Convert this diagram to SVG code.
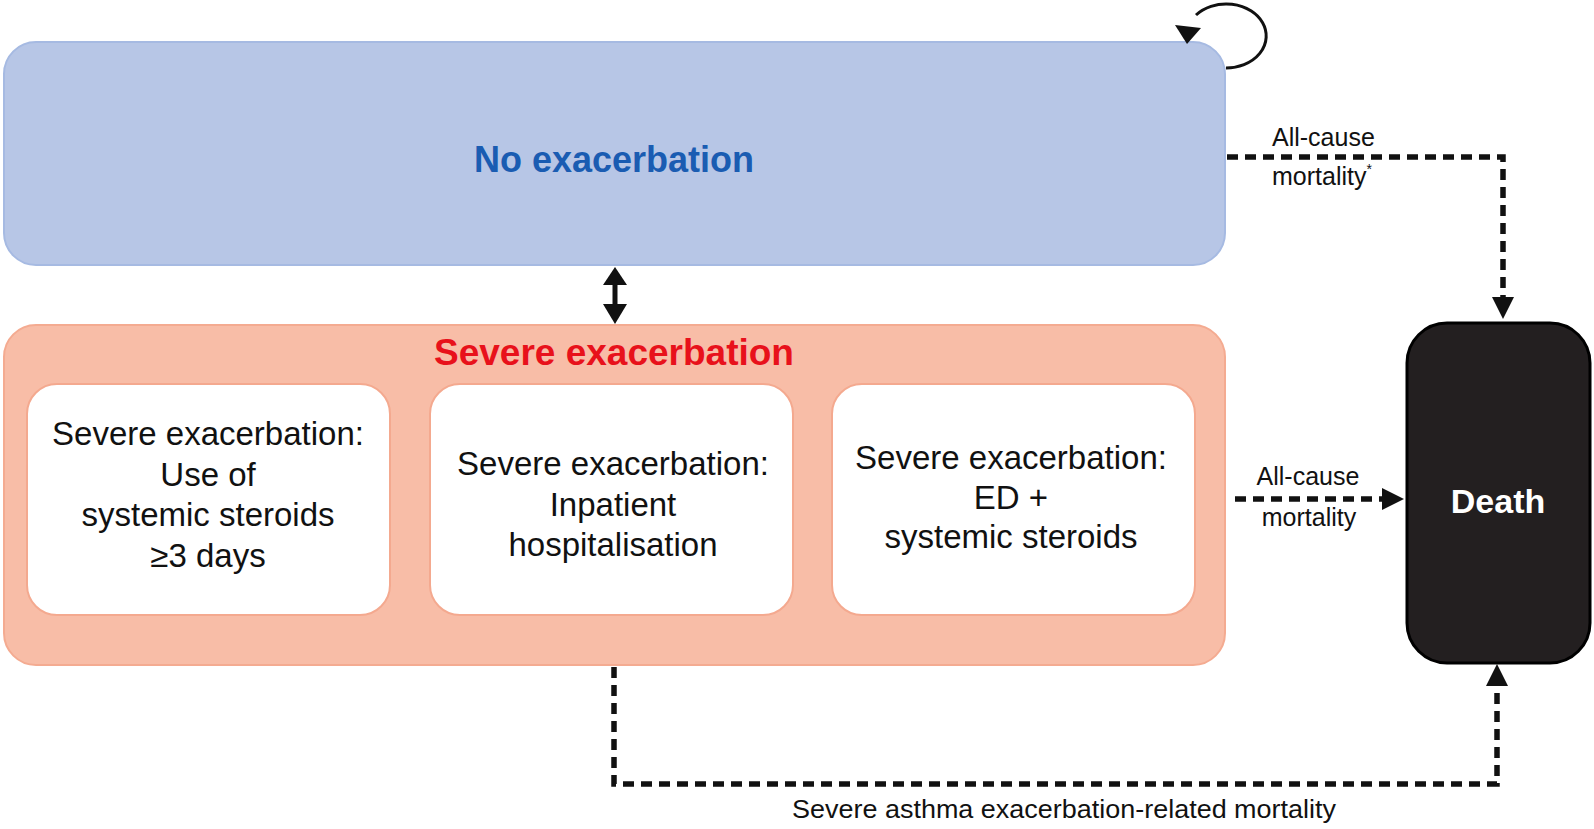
<svg xmlns="http://www.w3.org/2000/svg" width="1594" height="829" viewBox="0 0 1594 829">
<style>
text{font-family:"Liberation Sans",Arial,Helvetica,sans-serif;}
.box{fill:#ffffff;stroke:#f4a98f;stroke-width:2;}
.bt{font-size:33px;fill:#111;text-anchor:middle;}
.lbl{font-size:25px;fill:#111;}
.dash{fill:none;stroke:#111;stroke-width:5.5;stroke-dasharray:11 7;}
</style>
<defs>
<marker id="ah" viewBox="0 0 20 20" refX="0" refY="10" markerWidth="22" markerHeight="22" markerUnits="userSpaceOnUse" orient="auto">
<path d="M0,0 L20,10 L0,20 z" fill="#111"/>
</marker>
</defs>
<rect x="0" y="0" width="1594" height="829" fill="#ffffff"/>

<g id="no-exacerbation">
<rect x="4" y="42" width="1221" height="223" rx="32" fill="#b7c6e6" stroke="#a6bae2" stroke-width="2"/>
<text x="614" y="172" font-size="36" font-weight="bold" fill="#1a5cb2" text-anchor="middle">No exacerbation</text>
</g>

<g id="severe-exacerbation">
<rect x="4" y="325" width="1221" height="340" rx="32" fill="#f8bda7" stroke="#f4ab91" stroke-width="2"/>
<text x="614" y="365" font-size="37" font-weight="bold" fill="#e8111b" text-anchor="middle">Severe exacerbation</text>
</g>

<g id="se-steroids">
<rect class="box" x="27" y="384" width="363" height="231" rx="30"/>
<text class="bt" x="208" y="445">Severe exacerbation:</text>
<text class="bt" x="208" y="486">Use of</text>
<text class="bt" x="208" y="526">systemic steroids</text>
<text class="bt" x="208" y="567">≥3 days</text>
</g>

<g id="se-inpatient">
<rect class="box" x="430" y="384" width="363" height="231" rx="30"/>
<text class="bt" x="613" y="475">Severe exacerbation:</text>
<text class="bt" x="613" y="516">Inpatient</text>
<text class="bt" x="613" y="556">hospitalisation</text>
</g>

<g id="se-ed">
<rect class="box" x="832" y="384" width="363" height="231" rx="30"/>
<text class="bt" x="1011" y="469">Severe exacerbation:</text>
<text class="bt" x="1011" y="509">ED +</text>
<text class="bt" x="1011" y="548">systemic steroids</text>
</g>

<g id="death">
<rect x="1407" y="323" width="183" height="340" rx="40" fill="#231f20" stroke="#000" stroke-width="3"/>
<text x="1498" y="513" font-size="34" font-weight="bold" fill="#ffffff" text-anchor="middle">Death</text>
</g>

<g id="connectors">
<path d="M1226,68 A40,32 0 1 0 1196,15" fill="none" stroke="#111" stroke-width="3"/>
<polygon points="1175,25 1201,28 1187,44" fill="#111"/>

<line x1="615" y1="283" x2="615" y2="307" stroke="#111" stroke-width="5"/>
<polygon points="603,285 627,285 615,267" fill="#111"/>
<polygon points="603,304 627,304 615,324" fill="#111"/>

<path class="dash" d="M1227,157 H1503 V297" marker-end="url(#ah)"/>
<path class="dash" d="M1235,499 H1382" marker-end="url(#ah)"/>
<path class="dash" d="M614,667 V784 H1497 V686" marker-end="url(#ah)"/>

<text class="lbl" x="1272" y="146">All-cause</text>
<text class="lbl" x="1272" y="185">mortality<tspan font-size="14" dy="-11">*</tspan></text>
<text class="lbl" x="1308" y="485" text-anchor="middle">All-cause</text>
<text class="lbl" x="1309" y="526" text-anchor="middle">mortality</text>
<text class="lbl" x="1064" y="818" text-anchor="middle" font-size="24" textLength="544" lengthAdjust="spacingAndGlyphs">Severe asthma exacerbation-related mortality</text>
</g>
</svg>
